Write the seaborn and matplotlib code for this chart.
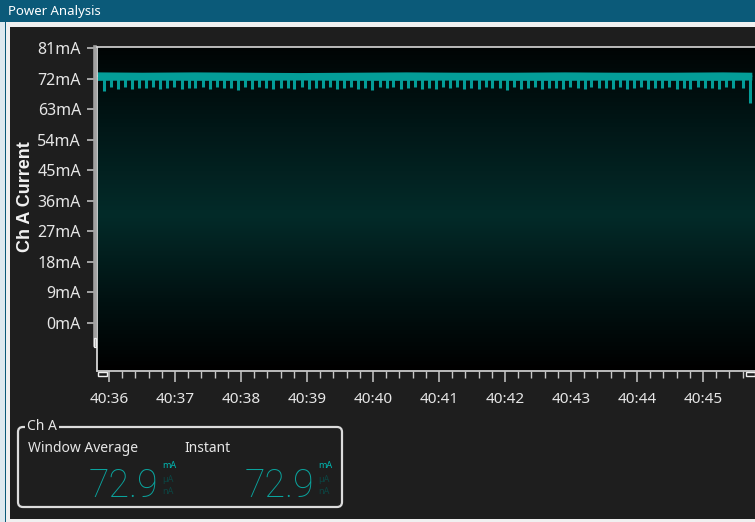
import numpy as np
import pandas as pd
import matplotlib
matplotlib.use("Agg")
import matplotlib.pyplot as plt
import seaborn as sns
from matplotlib.colors import LinearSegmentedColormap
from matplotlib.patches import Rectangle, FancyBboxPatch
from matplotlib.ticker import FixedLocator, AutoMinorLocator

# ---------------- data ----------------
band_times = [35.82, 36.5, 37.3, 38.1, 38.9, 39.7, 40.5, 41.3, 42.1, 42.9, 43.7, 44.5, 45.3, 45.74]
band_upper = [74.1, 74.0, 74.1, 74.0, 73.9, 74.0, 74.1, 74.0, 74.0, 74.1, 74.0, 74.0, 74.1, 74.0]
band_lower = [71.6, 71.7, 71.6, 71.6, 71.7, 71.6, 71.6, 71.7, 71.6, 71.6, 71.7, 71.6, 71.6, 71.7]

spike_times = [
    35.92, 36.03, 36.13, 36.24, 36.35, 36.46, 36.56, 36.67, 36.78, 36.88,
    36.99, 37.10, 37.21, 37.31, 37.42, 37.53, 37.63, 37.74, 37.85, 37.96,
    38.06, 38.17, 38.28, 38.38, 38.49, 38.60, 38.71, 38.81, 38.92, 39.03,
    39.13, 39.24, 39.35, 39.46, 39.56, 39.67, 39.78, 39.88, 39.99, 40.10,
    40.21, 40.31, 40.42, 40.53, 40.63, 40.74, 40.85, 40.96, 41.06, 41.17,
    41.28, 41.38, 41.49, 41.60, 41.71, 41.81, 41.92, 42.03, 42.13, 42.24,
    42.35, 42.46, 42.56, 42.67, 42.78, 42.88, 42.99, 43.10, 43.21, 43.31,
    43.42, 43.53, 43.63, 43.74, 43.85, 43.96, 44.06, 44.17, 44.28, 44.38,
    44.49, 44.60, 44.71, 44.81, 44.92, 45.03, 45.13, 45.24, 45.35, 45.46,
    45.60, 45.71,
]
spike_mins = [
    68.6, 69.5, 69.1, 69.6, 69.0, 69.4, 69.2, 69.7, 69.1, 69.3,
    69.6, 68.9, 69.4, 69.2, 69.5, 69.0, 69.6, 69.2, 69.3, 68.8,
    69.5, 69.1, 69.7, 69.2, 68.9, 69.4, 69.3, 69.0, 69.6, 69.1,
    69.4, 69.2, 69.7, 68.9, 69.3, 69.5, 69.1, 69.4, 68.8, 69.6,
    69.2, 69.5, 69.0, 69.3, 69.7, 69.1, 69.4, 68.9, 69.5, 69.2,
    69.6, 69.0, 69.3, 69.1, 69.7, 69.2, 69.4, 68.8, 69.5, 69.1,
    69.3, 69.6, 69.0, 69.2, 69.4, 68.9, 69.5, 69.3, 69.1, 69.6,
    69.2, 69.4, 69.0, 69.5, 69.1, 69.3, 69.7, 68.9, 69.4, 69.2,
    69.5, 69.1, 69.3, 69.0, 69.6, 69.2, 69.4, 69.1, 69.5, 69.2,
    69.3, 64.8,
]

y_ticks = [0, 9, 18, 27, 36, 45, 54, 63, 72, 81]
y_labels = ["0mA", "9mA", "18mA", "27mA", "36mA", "45mA", "54mA", "63mA", "72mA", "81mA"]
x_ticks = [36, 37, 38, 39, 40, 41, 42, 43, 44, 45]
x_labels = ["40:36", "40:37", "40:38", "40:39", "40:40", "40:41", "40:42", "40:43", "40:44", "40:45"]

window_average = "72.9"
instant = "72.9"

# ---------------- style ----------------
sns.set_theme(style="dark")
plt.rcParams['font.family'] = ['Noto Sans', 'DejaVu Sans']

W, H = 755, 522
TEAL = "#049d98"
PANEL = "#1e1e1e"
BAR = "#0b5a79"

fig = plt.figure(figsize=(W / 100, H / 100), dpi=100, facecolor=PANEL)

# plot area position (pixels)
L, R, T, B = 97, 755, 47, 370.5
pos = [L / W, 1 - B / H, (R - L) / W, (B - T) / H]

# gradient background
bg = fig.add_axes(pos, zorder=0)
cmap = LinearSegmentedColormap.from_list(
    "g", [(0.0, "#000000"), (0.22, "#011212"), (0.48, "#032b29"), (0.75, "#011717"), (1.0, "#000404")])
bg.imshow(np.linspace(0, 1, 256).reshape(-1, 1), extent=[0, 1, 0, 1], aspect="auto",
          cmap=cmap, origin="lower")
bg.set_axis_off()

ax = fig.add_axes(pos, zorder=1)
ax.patch.set_alpha(0)

df = pd.DataFrame({"t": band_times * 2, "mA": band_upper + band_lower})
sns.lineplot(data=df, x="t", y="mA", estimator="mean", errorbar=("pi", 100),
             color=TEAL, linewidth=1.0, err_kws={"alpha": 1, "linewidth": 0}, ax=ax)
ax.vlines(spike_times, spike_mins, [71.9] * len(spike_times), color=TEAL, linewidth=2.2)

ax.set_xlim(35.818, 45.788)
ax.set_ylim(-14.02, 81.44)
ax.set_xlabel("")
ax.set_ylabel("")
ax.grid(False)

ax.xaxis.set_major_locator(FixedLocator(x_ticks))
ax.set_xticklabels(x_labels)
ax.xaxis.set_minor_locator(AutoMinorLocator(5))
ax.yaxis.set_major_locator(FixedLocator(y_ticks))
ax.set_yticklabels(y_labels)

ax.spines["right"].set_visible(False)
ax.spines["top"].set_color("#d8d8d8")
ax.spines["top"].set_linewidth(1.2)
ax.spines["bottom"].set_color("#c8c8c8")
ax.spines["bottom"].set_linewidth(1.3)
ax.spines["left"].set_position(("outward", 1.3))
ax.spines["left"].set_color("#a0a0a0")
ax.spines["left"].set_linewidth(2.6)
ax.spines["left"].set_bounds(-6.5, 81.44)
ax.plot([0, 0], [0, 1], transform=ax.transAxes, color="#e6e6e6", lw=1.2, clip_on=False)

ax.tick_params(axis="y", direction="out", length=5.9, width=1.1, color="#c8c8c8",
               labelcolor="#e6e6e6", labelsize=11.5, pad=4.3, left=True)
ax.tick_params(axis="x", which="major", direction="out", length=8, width=1.1, color="#c8c8c8",
               labelcolor="#e6e6e6", labelsize=11, pad=7.5, bottom=True)
ax.tick_params(axis="x", which="minor", direction="out", length=5, width=1.0, color="#c8c8c8",
               bottom=True)

# ---------------- overlay in pixel coordinates ----------------
ov = fig.add_axes([0, 0, 1, 1], zorder=2)
ov.set_xlim(0, W)
ov.set_ylim(H, 0)
ov.set_axis_off()
ov.patch.set_alpha(0)

ov.add_patch(Rectangle((0, 0), W, 22, facecolor=BAR, edgecolor="none"))
ov.add_patch(Rectangle((0, 22), W, 5, facecolor="#f0f0f0", edgecolor="none"))
ov.add_patch(Rectangle((0, 22), 10, H - 22, facecolor="#f0f0f0", edgecolor="none"))
ov.add_patch(Rectangle((0, 519), W, 3, facecolor="#f0f0f0", edgecolor="none"))
ov.add_patch(Rectangle((0, 22), 4.5, H - 22, facecolor="#dde9ef", edgecolor="none"))
ov.add_patch(Rectangle((4.5, 22), 1.2, H - 22, facecolor=BAR, edgecolor="none"))
ov.text(8, 12, "Power Analysis", fontsize=9.5, color="white", va="center", ha="left")

# scroll handles
ov.add_patch(Rectangle((97.5, 371.5), 9, 4, fill=False, edgecolor="#f0f0f0", lw=1))
ov.add_patch(Rectangle((746, 371.5), 9, 4, fill=False, edgecolor="#f0f0f0", lw=1))
ov.add_patch(Rectangle((93.6, 338), 2.6, 9, fill=False, edgecolor="#f0f0f0", lw=0.9))

fig.text(25 / W, 1 - 196.5 / H, "Ch A Current", rotation=90, fontsize=13, fontweight="bold",
         color="#f2f2f2", family=["Liberation Sans", "DejaVu Sans"], ha="center", va="center")

# group box
ov.add_patch(FancyBboxPatch((18, 427), 324, 80, boxstyle="round,pad=0,rounding_size=5",
                            fill=False, edgecolor="#dcdcdc", lw=1.6))
ov.text(27, 427, "Ch A", fontsize=10, color="#e6e6e6", va="center", ha="left",
        bbox=dict(facecolor=PANEL, edgecolor="none", pad=1.5))
ov.text(28, 449, "Window Average", fontsize=10, color="#e6e6e6", va="center", ha="left")
ov.text(184, 449, "Instant", fontsize=10, color="#e6e6e6", va="center", ha="left")

for xr, val in [(158, window_average), (314, instant)]:
    ov.text(xr, 497, val, ha="right", va="baseline", fontsize=27, color="#0aa39d",
            family=["Roboto", "DejaVu Sans"], fontweight="light")
    ov.text(xr + 4, 466, "mA", fontsize=6.5, fontweight="bold", color="#00b8b2", va="center", ha="left")
    ov.text(xr + 4, 479, "µA", fontsize=6.5, fontweight="bold", color="#0c4543", va="center", ha="left")
    ov.text(xr + 4, 492, "nA", fontsize=6.5, fontweight="bold", color="#0c4543", va="center", ha="left")

fig.savefig("out.png", dpi=100, facecolor=fig.get_facecolor())
